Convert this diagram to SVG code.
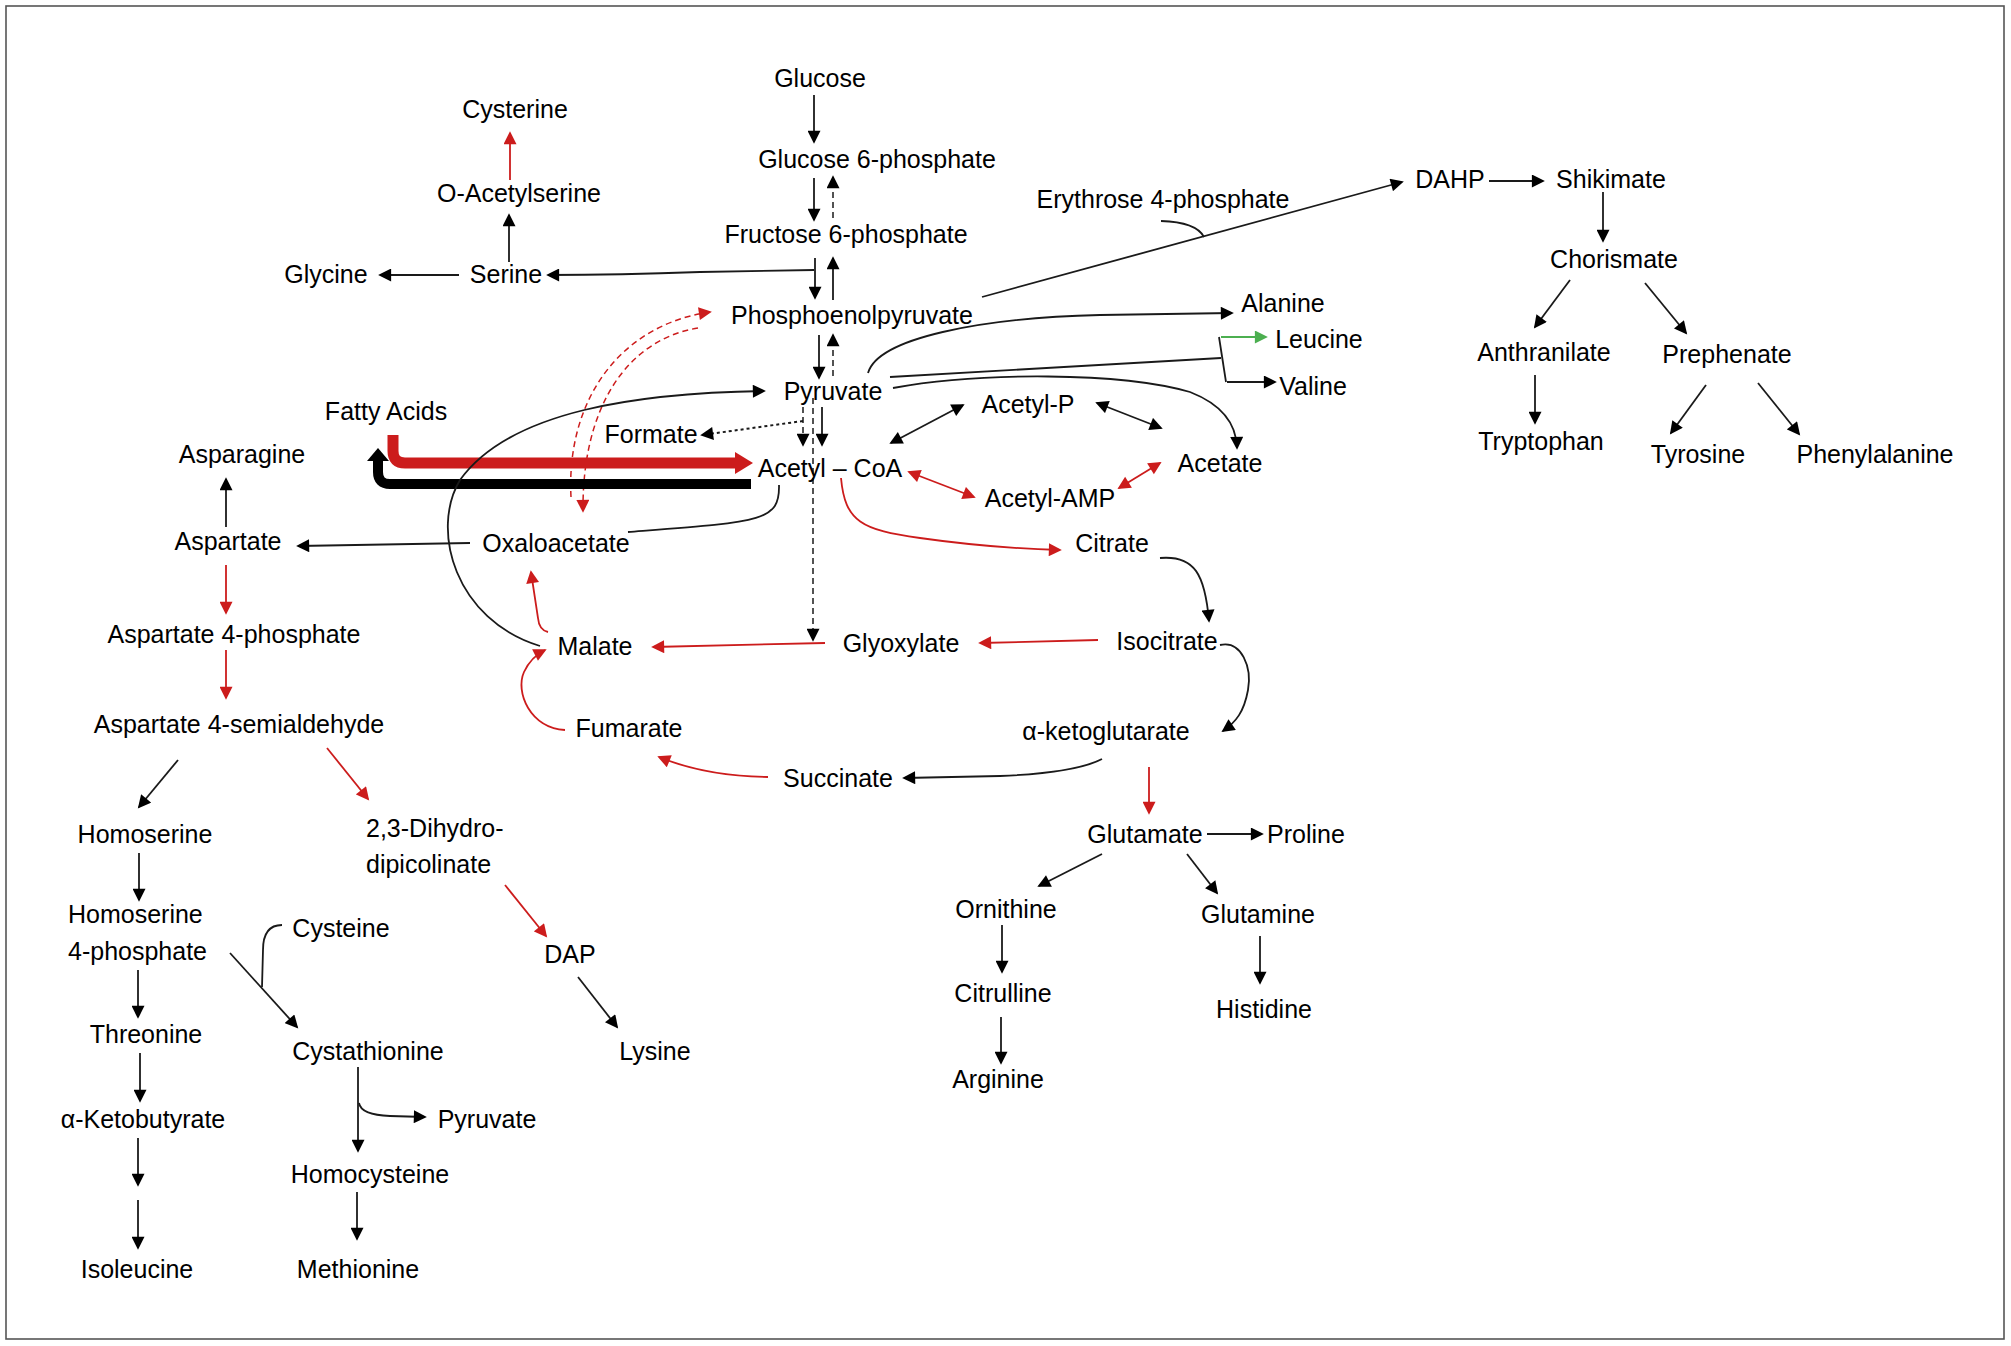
<svg xmlns="http://www.w3.org/2000/svg" width="2011" height="1346" viewBox="0 0 2011 1346">
<style>
text{font-family:"Liberation Sans",Arial,sans-serif;font-size:25px;fill:#000;text-anchor:middle}
text.l{text-anchor:start}
.c{fill:none;stroke:#1a1a1a;stroke-width:1.8}
.r{fill:none;stroke:#cc1c1c;stroke-width:1.8}
.g{fill:none;stroke:#4caf50;stroke-width:2}
.d{stroke-dasharray:6 4;stroke-width:1.5}
.f{stroke-dasharray:3 3;stroke-width:2}
.ab{marker-end:url(#ab)}
.ar{marker-end:url(#ar)}
.ag{marker-end:url(#ag)}
.bb{marker-start:url(#ab);marker-end:url(#ab)}
.rr{marker-start:url(#ar);marker-end:url(#ar)}
</style>
<defs>
<marker id="ab" viewBox="0 0 14 14" refX="12" refY="7" markerWidth="14" markerHeight="13" markerUnits="userSpaceOnUse" orient="auto-start-reverse"><path d="M0,0 L14,7 L0,14 z" fill="#000"/></marker>
<marker id="ar" viewBox="0 0 14 14" refX="12" refY="7" markerWidth="14" markerHeight="13" markerUnits="userSpaceOnUse" orient="auto-start-reverse"><path d="M0,0 L14,7 L0,14 z" fill="#cc1c1c"/></marker>
<marker id="ag" viewBox="0 0 14 14" refX="12" refY="7" markerWidth="14" markerHeight="13" markerUnits="userSpaceOnUse" orient="auto-start-reverse"><path d="M0,0 L14,7 L0,14 z" fill="#4caf50"/></marker>
</defs>
<rect x="6" y="6" width="1998" height="1333" fill="#fff" stroke="#555" stroke-width="1.6"/>

<g id="connectors">
<path class="c ab" d="M814 95 V142"/>
<path class="c ab" d="M814 178 V220"/>
<path class="c d ab" d="M833 218 V177"/>
<path class="c ab" d="M815 258 V298"/>
<path class="c ab" d="M833 300 V258"/>
<path class="c ab" d="M814 270 L700 272 Q620 275 548 275"/>
<path class="c ab" d="M459 275 H380"/>
<path class="c ab" d="M509 262 V215"/>
<path class="r ab ar" d="M510 180 V133"/>
<path class="c ab" d="M819 335 V378"/>
<path class="c d ab" d="M833 376 V335"/>
<path class="c ab" d="M822 407 V445"/>
<path class="c d ab" d="M803 407 V445"/>
<path class="c d ab" d="M813 398 V640"/>
<path class="c f ab" d="M803 421 L702 435"/>
<path class="r d ar" d="M571 497 C566 400 620 325 710 312"/>
<path class="r d ar" d="M698 328 C625 340 582 410 583 511"/>
<path d="M393 435 V451 Q393 463 405 463 H738" fill="none" stroke="#cc1c1c" stroke-width="11"/>
<polygon points="735,452 753,463 735,474" fill="#cc1c1c"/>
<path d="M751 484 H390 Q378 484 378 472 V460" fill="none" stroke="#000" stroke-width="10"/>
<polygon points="367,461 378,448 389,461" fill="#000"/>
<path class="c ab" d="M540 646 C455 620 430 530 460 480 C510 410 640 393 764 391"/>
<path class="c" d="M779 485 C780 522 760 522 628 532"/>
<path class="c ab" d="M470 543 Q400 544 298 546"/>
<path class="c ab" d="M226 527 V479"/>
<path class="r ar" d="M226 565 V613"/>
<path class="r ar" d="M226 650 V698"/>
<path class="c ab" d="M178 760 L139 807"/>
<path class="r ar" d="M327 748 L368 799"/>
<path class="c ab" d="M139 853 V900"/>
<path class="r ar" d="M505 885 L546 936"/>
<path class="c ab" d="M578 977 L617 1027"/>
<path class="c ab" d="M138 970 V1017"/>
<path class="c ab" d="M230 953 L297 1027"/>
<path class="c" d="M282 925 Q263 925 263 950 L262 987"/>
<path class="c ab" d="M140 1053 V1101"/>
<path class="c ab" d="M138 1138 V1185"/>
<path class="c ab" d="M138 1200 V1248"/>
<path class="c ab" d="M358 1067 V1151"/>
<path class="c ab" d="M359 1103 Q361 1115 390 1116 L425 1117"/>
<path class="c ab" d="M357 1192 V1239"/>
<path class="c ab" d="M982 297 L1402 182"/>
<path class="c" d="M1161 221 Q1196 222 1204 237"/>
<path class="c ab" d="M1489 181 H1543"/>
<path class="c ab" d="M1603 192 V241"/>
<path class="c ab" d="M1570 280 L1535 327"/>
<path class="c ab" d="M1645 283 L1686 333"/>
<path class="c ab" d="M1535 375 V423"/>
<path class="c ab" d="M1706 385 L1671 433"/>
<path class="c ab" d="M1758 383 L1799 434"/>
<path class="c ab" d="M868 373 C878 338 980 318 1100 315 L1232 313"/>
<path class="c" d="M890 377 L1221 358"/>
<path class="c" d="M1219 337 L1226 382"/>
<path class="g ag" d="M1221 337 H1266"/>
<path class="c ab" d="M1227 382 H1275"/>
<path class="c ab" d="M893 388 C980 372 1120 372 1190 392 Q1236 410 1237 448"/>
<path class="c bb" d="M891 443 L963 405"/>
<path class="c bb" d="M1097 403 L1161 428"/>
<path class="r rr" d="M909 472 L974 497"/>
<path class="r rr" d="M1119 488 L1160 463"/>
<path class="r ar" d="M841 478 C845 522 862 530 920 538 Q990 548 1060 550"/>
<path class="c ab" d="M1160 558 C1195 555 1205 575 1209 621"/>
<path class="c ab" d="M1220 645 C1242 640 1252 668 1248 690 C1244 712 1236 722 1223 731"/>
<path class="c ab" d="M1102 759 Q1075 773 1000 776 L904 778"/>
<path class="r ar" d="M1149 767 V813"/>
<path class="c ab" d="M1207 834 H1262"/>
<path class="c ab" d="M1102 854 L1039 886"/>
<path class="c ab" d="M1187 854 L1217 893"/>
<path class="c ab" d="M1002 925 V972"/>
<path class="c ab" d="M1001 1017 V1063"/>
<path class="c ab" d="M1260 936 V983"/>
<path class="r ar" d="M1098 640 L980 643"/>
<path class="r ar" d="M825 643 L653 647"/>
<path class="r ar" d="M548 632 Q539 630 538 618 L531 572"/>
<path class="r ar" d="M565 730 C530 728 515 692 524 672 Q531 657 545 650"/>
<path class="r ar" d="M768 777 Q705 776 659 757"/>
</g>

<g id="n-glucose"><text x="820" y="87">Glucose</text></g>
<g id="n-g6p"><text x="877" y="168">Glucose 6-phosphate</text></g>
<g id="n-f6p"><text x="846" y="243">Fructose 6-phosphate</text></g>
<g id="n-pep"><text x="852" y="324">Phosphoenolpyruvate</text></g>
<g id="n-pyruvate"><text x="833" y="400">Pyruvate</text></g>
<g id="n-cysterine"><text x="515" y="118">Cysterine</text></g>
<g id="n-oacetylserine"><text x="519" y="202">O-Acetylserine</text></g>
<g id="n-glycine"><text x="326" y="283">Glycine</text></g>
<g id="n-serine"><text x="506" y="283">Serine</text></g>
<g id="n-fattyacids"><text x="386" y="420">Fatty Acids</text></g>
<g id="n-formate"><text x="651" y="443">Formate</text></g>
<g id="n-acetylcoa"><text x="830" y="477">Acetyl – CoA</text></g>
<g id="n-acetylp"><text x="1028" y="413">Acetyl-P</text></g>
<g id="n-acetate"><text x="1220" y="472">Acetate</text></g>
<g id="n-acetylamp"><text x="1050" y="507">Acetyl-AMP</text></g>
<g id="n-oxaloacetate"><text x="556" y="552">Oxaloacetate</text></g>
<g id="n-citrate"><text x="1112" y="552">Citrate</text></g>
<g id="n-malate"><text x="595" y="655">Malate</text></g>
<g id="n-glyoxylate"><text x="901" y="652">Glyoxylate</text></g>
<g id="n-isocitrate"><text x="1167" y="650">Isocitrate</text></g>
<g id="n-fumarate"><text x="629" y="737">Fumarate</text></g>
<g id="n-akg"><text x="1106" y="740">α-ketoglutarate</text></g>
<g id="n-succinate"><text x="838" y="787">Succinate</text></g>
<g id="n-erythrose"><text x="1163" y="208">Erythrose 4-phosphate</text></g>
<g id="n-dahp"><text x="1450" y="188">DAHP</text></g>
<g id="n-shikimate"><text x="1611" y="188">Shikimate</text></g>
<g id="n-chorismate"><text x="1614" y="268">Chorismate</text></g>
<g id="n-anthranilate"><text x="1544" y="361">Anthranilate</text></g>
<g id="n-prephenate"><text x="1727" y="363">Prephenate</text></g>
<g id="n-tryptophan"><text x="1541" y="450">Tryptophan</text></g>
<g id="n-tyrosine"><text x="1698" y="463">Tyrosine</text></g>
<g id="n-phenylalanine"><text x="1875" y="463">Phenylalanine</text></g>
<g id="n-alanine"><text x="1283" y="312">Alanine</text></g>
<g id="n-leucine"><text x="1319" y="348">Leucine</text></g>
<g id="n-valine"><text x="1313" y="395">Valine</text></g>
<g id="n-asparagine"><text x="242" y="463">Asparagine</text></g>
<g id="n-aspartate"><text x="228" y="550">Aspartate</text></g>
<g id="n-asp4p"><text x="234" y="643">Aspartate 4-phosphate</text></g>
<g id="n-asp4sa"><text x="239" y="733">Aspartate 4-semialdehyde</text></g>
<g id="n-homoserine"><text x="145" y="843">Homoserine</text></g>
<g id="n-dhdp"><text class="l" x="366" y="837">2,3-Dihydro-</text><text class="l" x="366" y="873">dipicolinate</text></g>
<g id="n-hs4p"><text class="l" x="68" y="923">Homoserine</text><text class="l" x="68" y="960">4-phosphate</text></g>
<g id="n-cysteine"><text x="341" y="937">Cysteine</text></g>
<g id="n-threonine"><text x="146" y="1043">Threonine</text></g>
<g id="n-cystathionine"><text x="368" y="1060">Cystathionine</text></g>
<g id="n-dap"><text x="570" y="963">DAP</text></g>
<g id="n-lysine"><text x="655" y="1060">Lysine</text></g>
<g id="n-aketobutyrate"><text x="143" y="1128">α-Ketobutyrate</text></g>
<g id="n-pyruvate2"><text x="487" y="1128">Pyruvate</text></g>
<g id="n-homocysteine"><text x="370" y="1183">Homocysteine</text></g>
<g id="n-isoleucine"><text x="137" y="1278">Isoleucine</text></g>
<g id="n-methionine"><text x="358" y="1278">Methionine</text></g>
<g id="n-glutamate"><text x="1145" y="843">Glutamate</text></g>
<g id="n-proline"><text x="1306" y="843">Proline</text></g>
<g id="n-ornithine"><text x="1006" y="918">Ornithine</text></g>
<g id="n-glutamine"><text x="1258" y="923">Glutamine</text></g>
<g id="n-citrulline"><text x="1003" y="1002">Citrulline</text></g>
<g id="n-histidine"><text x="1264" y="1018">Histidine</text></g>
<g id="n-arginine"><text x="998" y="1088">Arginine</text></g>
</svg>
